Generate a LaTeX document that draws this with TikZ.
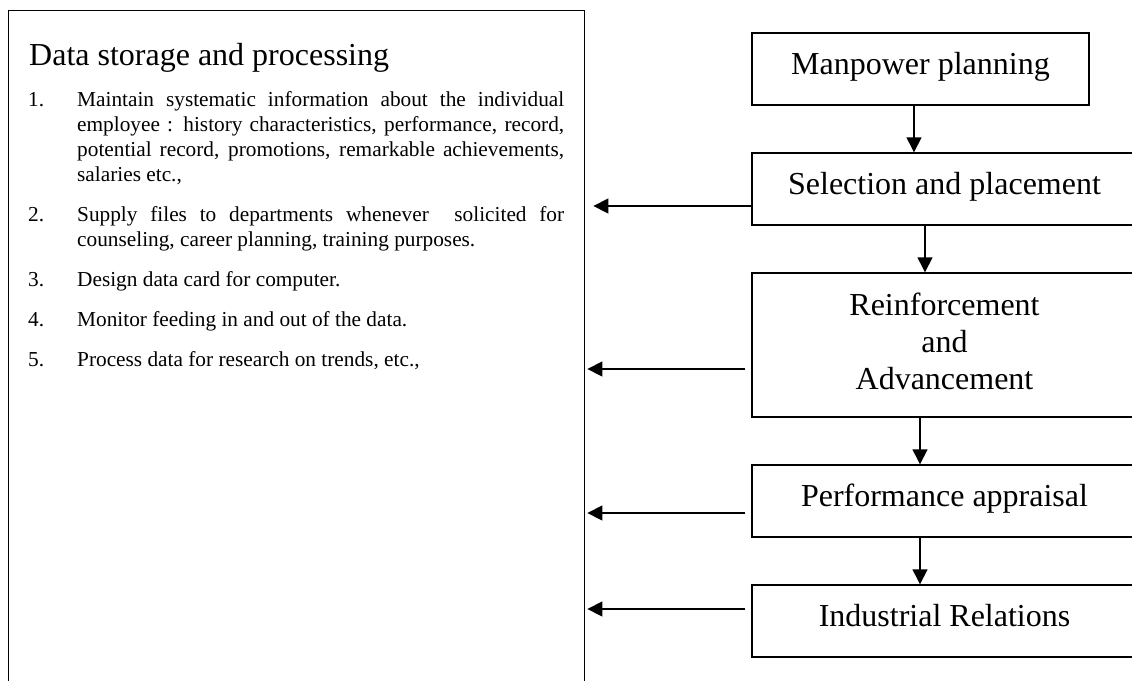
\documentclass[tikz,border=0pt]{standalone}
\usepackage{fontspec}
\setmainfont{Liberation Serif}
\usetikzlibrary{arrows.meta}

\begin{document}
\begin{tikzpicture}[x=1pt,y=-1pt,
  frame/.style={draw, line width=1.4pt},
  stagebox/.style={frame, inner sep=0pt, minimum height=72pt,
    font=\fontsize{32}{37}\selectfont},
  oneline/.style={text height=21pt, text depth=11pt},
  arr/.style={line width=1.4pt, -{Triangle[length=15pt,width=15pt]}},
  listtext/.style={inner sep=0pt, text width=536pt, align=justify,
    font=\fontsize{21.3}{25}\selectfont}]

\useasboundingbox (0,0) rectangle (1132,680);

% data store panel (open at the bottom)
\node[frame, anchor=north west, inner sep=0pt,
      minimum width=576pt, minimum height=720pt] (store) at (8,10) {};

\node[anchor=base west, inner sep=0pt, font=\fontsize{32}{37}\selectfont]
  (title) at (29,65) {Data storage and processing};

\node[listtext, anchor=base west] (items) at (28,106) {%
\noindent\hangindent=49pt\hangafter=1
\makebox[49pt][l]{1.}Maintain systematic information about the individual\linebreak
employee : history characteristics, performance, record,\linebreak
potential record, promotions, remarkable achievements,\linebreak
salaries etc.,\par\vspace{15pt}
\noindent\hangindent=49pt\hangafter=1
\makebox[49pt][l]{2.}Supply files to departments whenever\ \ solicited for\linebreak
counseling, career planning, training purposes.\par\vspace{15pt}
\noindent\makebox[49pt][l]{3.}Design data card for computer.\par\vspace{15pt}
\noindent\makebox[49pt][l]{4.}Monitor feeding in and out of the data.\par\vspace{15pt}
\noindent\makebox[49pt][l]{5.}Process data for research on trends, etc.,\par};

% HR stages
\node[stagebox, oneline, minimum width=337pt] (man) at (920.5,69) {Manpower planning};
\node[stagebox, oneline, minimum width=385pt] (sel) at (944.5,189) {Selection and placement};
\node[stagebox, minimum width=385pt, minimum height=144pt, align=center] (reinf) at (944.5,345)
  {Reinforcement\\and\\Advancement\\[-29pt]};
\node[stagebox, oneline, minimum width=385pt] (perf) at (944.5,501) {Performance appraisal};
\node[stagebox, oneline, minimum width=385pt] (ind) at (944.5,621) {Industrial Relations};

% flow between stages
\draw[arr] ([xshift=-6.5pt]man.south) -- ([xshift=-6.5pt]man.south |- sel.north);
\draw[arr] ([xshift=-19.5pt]sel.south) -- ([xshift=-19.5pt]sel.south |- reinf.north);
\draw[arr] ([xshift=-24.5pt]reinf.south) -- ([xshift=-24.5pt]reinf.south |- perf.north);
\draw[arr] ([xshift=-24.5pt]perf.south) -- ([xshift=-24.5pt]perf.south |- ind.north);

% feeds into the data store
\draw[arr, shorten >=8pt] ([yshift=-17pt]sel.west) -- ([yshift=-17pt]sel.west -| store.east);
\draw[arr, shorten <=6pt, shorten >=2pt] ([yshift=-24pt]reinf.west) -- ([yshift=-24pt]reinf.west -| store.east);
\draw[arr, shorten <=6pt, shorten >=2pt] ([yshift=-12pt]perf.west) -- ([yshift=-12pt]perf.west -| store.east);
\draw[arr, shorten <=6pt, shorten >=2pt] ([yshift=12pt]ind.west) -- ([yshift=12pt]ind.west -| store.east);
\end{tikzpicture}
\end{document}
